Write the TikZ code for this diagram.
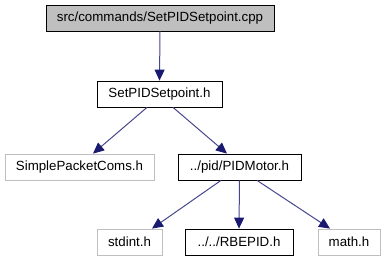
\documentclass[tikz,border=0pt]{standalone}
\usepackage{fontspec}
\setmainfont{Liberation Sans}
\usetikzlibrary{arrows.meta}
\definecolor{edgeblue}{HTML}{191970}
\definecolor{boxgray}{HTML}{BFBFBF}
\tikzset{
  filebox/.style={draw=black, fill=white, line width=0.8pt, minimum height=26pt,
    inner sep=0pt, font=\fontsize{13.3}{15}\selectfont},
  extbox/.style={filebox, draw=boxgray},
  rootbox/.style={filebox, fill=boxgray},
  edge/.style={draw=edgeblue!80!white, line width=1pt,
    -{Triangle[length=11pt,width=10pt,color=edgeblue]}}
}
\begin{document}
\begin{tikzpicture}[x=1pt,y=-1pt]
  \useasboundingbox (0,0) rectangle (386,261);
  % include graph nodes
  \node[rootbox, minimum width=228pt] (cpp)    at (160,18)    {src/commands/SetPIDSetpoint.cpp};
  \node[filebox, minimum width=125pt] (setpid) at (159.5,94)  {SetPIDSetpoint.h};
  \node[extbox,  minimum width=149pt] (spc)    at (79.5,167)  {SimplePacketComs.h};
  \node[filebox, minimum width=123pt] (pidm)   at (239.5,167) {../pid/PIDMotor.h};
  \node[extbox,  minimum width=65pt]  (stdint) at (129.5,242) {stdint.h};
  \node[filebox, minimum width=108pt] (rbepid) at (239,242)   {../../RBEPID.h};
  \node[extbox,  minimum width=62pt]  (math)   at (349,242)   {math.h};
  % include dependencies
  \draw[edge] (cpp.south) -- (setpid.north);
  \draw[edge] ([xshift=-12.5pt]setpid.south) -- ([xshift=13.5pt]spc.north);
  \draw[edge] ([xshift=13.5pt]setpid.south) -- ([xshift=-12.5pt]pidm.north);
  \draw[edge] ([xshift=-18.5pt]pidm.south) -- ([xshift=22.5pt]stdint.north);
  \draw[edge] (pidm.south) -- (rbepid.north);
  \draw[edge] ([xshift=17.5pt]pidm.south) -- ([xshift=-19pt]math.north);
\end{tikzpicture}
\end{document}
